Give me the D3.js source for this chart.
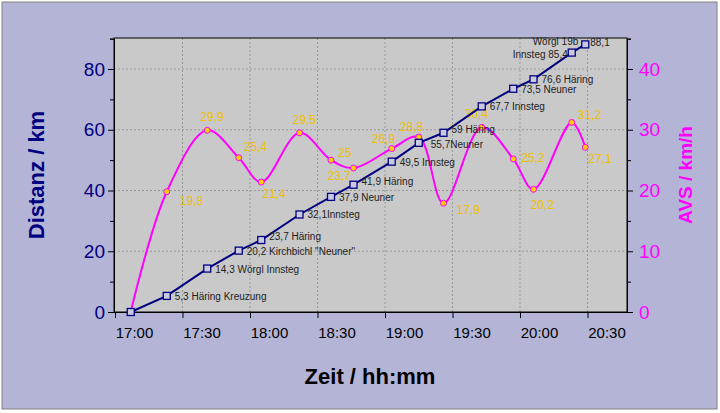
<!DOCTYPE html><html><head><meta charset="utf-8">
<script src="https://cdn.jsdelivr.net/npm/d3@7"></script>
<style>body{margin:0;background:#fff}text{font-family:"Liberation Sans",Arial,sans-serif}</style></head><body>
<svg id="c" width="720" height="413"></svg>
<script>
const times=["17:07","17:23","17:41","17:55","18:05","18:22","18:36","18:46","19:03","19:15","19:26","19:43","19:57","20:06","20:23","20:29"];
const distance=[0,5.3,14.3,20.2,23.7,32.1,37.9,41.9,49.5,55.7,59,67.7,73.5,76.6,85.4,88.1];
const distLabels=["","5,3 Häring Kreuzung","14,3 Wörgl Innsteg","20,2 Kirchbichl \"Neuner\"","23,7 Häring","32,1Innsteg","37,9 Neuner","41,9 Häring","49,5 Innsteg","55,7Neuner","59 Häring","67,7 Innsteg","73,5 Neuner","76,6 Häring","Innsteg 85,4","88,1"];
const speed=[0,19.8,29.9,25.4,21.4,29.5,25,23.7,26.9,28.8,17.9,30.4,25.2,20.2,31.2,27.1];
const speedLabels=["","19,8","29,9","25,4","21,4","29,5","25","23,7","26,9","28,8","17,9","30,4","25,2","20,2","31,2","27,1"];
const timeTicks=["17:00","17:30","18:00","18:30","19:00","19:30","20:00","20:30"];
// label placement (dx,dy,anchor)
const distPos=[null,[8,4,"start"],[8,4,"start"],[8,4,"start"],[8,0,"start"],[8,4,"start"],[8,4,"start"],[8,0,"start"],[8,4,"start"],[12,5,"start"],[8,0,"start"],[8,4,"start"],[8,4,"start"],[8,4,"start"],[-4,5,"end"],[5,2,"start"]];
const spdPos=[null,[13,13,"start"],[-7,-9,"start"],[5,-7,"start"],[1,16,"start"],[-7,-9,"start"],[7,-3,"start"],[-26,12,"start"],[-20,-6,"start"],[-19,-6,"start"],[13,11,"start"],[-17,-9,"start"],[8,3,"start"],[-3,20,"start"],[6,-3,"start"],[3,16,"start"]];

const svg=d3.select("#c");
svg.append("rect").attr("x",0).attr("y",0).attr("width",720).attr("height",413).attr("fill","#fff");
svg.append("rect").attr("x",2).attr("y",2).attr("width",715).attr("height",407).attr("fill","#B4B4D6").attr("stroke","#808080");
const L=114,R=627,T=38,B=312;
const pt=d3.timeParse("%H:%M");
const x=d3.scaleTime().domain([pt("17:00"),pt("20:48")]).range([L+1,R+1]);
const y=d3.scaleLinear().domain([0,90]).range([B,B-90*(243/80)]);
const y2=d3.scaleLinear().domain([0,45]).range([B,B-45*(243/40)]);
svg.append("rect").attr("x",L).attr("y",T).attr("width",R-L).attr("height",B-T).attr("fill","#C9C9C9");
const g=svg.append("g");
[20,40,60,80].forEach(v=>g.append("line").attr("x1",L).attr("x2",R).attr("y1",y(v)).attr("y2",y(v)).attr("stroke","#999").attr("stroke-dasharray","2,2"));
timeTicks.slice(1).forEach(t=>g.append("line").attr("x1",x(pt(t))).attr("x2",x(pt(t))).attr("y1",T).attr("y2",B).attr("stroke","#999").attr("stroke-dasharray","2,2"));
// axes
const ax=svg.append("g").attr("transform",`translate(0,${B})`).call(d3.axisBottom(x).tickValues(timeTicks.map(pt)).tickFormat(d3.timeFormat("%H:%M")).tickSize(6).tickSizeOuter(0));
ax.selectAll("text").attr("font-size",15).attr("fill","#000").attr("dy","1.1em").attr("dx",19);
const ay=svg.append("g").attr("transform",`translate(${L},0)`).call(d3.axisLeft(y).tickValues([0,20,40,60,80]).tickSize(6).tickSizeOuter(0));
ay.selectAll("text").attr("font-size",19).attr("fill","#000080");
svg.append("g").attr("transform",`translate(${L},0)`).call(d3.axisLeft(y).tickValues([10,30,50,70,90]).tickSize(4).tickFormat(""));
const ay2=svg.append("g").attr("transform",`translate(${R},0)`).call(d3.axisRight(y2).tickValues([0,10,20,30,40]).tickSize(6).tickSizeOuter(0));
ay2.selectAll("text").attr("font-size",19).attr("fill","#FF00FF").attr("x",12);
svg.append("g").attr("transform",`translate(${R},0)`).call(d3.axisRight(y2).tickValues([5,15,25,35,45]).tickSize(4).tickFormat(""));
svg.selectAll(".domain").attr("stroke","#000");
svg.append("rect").attr("x",L).attr("y",T).attr("width",R-L).attr("height",B-T).attr("fill","none").attr("stroke","#000");
// titles
svg.append("text").attr("transform","translate(44,175) rotate(-90)").attr("text-anchor","middle").attr("font-size",22).attr("font-weight","bold").attr("fill","#000080").text("Distanz / km");
svg.append("text").attr("transform","translate(692,175) rotate(-90)").attr("text-anchor","middle").attr("font-size",19).attr("font-weight","bold").attr("fill","#FF00FF").text("AVS / km/h");
svg.append("text").attr("x",370).attr("y",384).attr("text-anchor","middle").attr("font-size",22).attr("font-weight","bold").attr("fill","#000").text("Zeit / hh:mm");
// speed line
const X=times.map(t=>x(pt(t)));
svg.append("path").attr("d",d3.line().x((d,i)=>X[i]).y(d=>y2(d)).curve(d3.curveCatmullRom.alpha(0.5))(speed)).attr("fill","none").attr("stroke","#FF00FF").attr("stroke-width",2);
speed.forEach((d,i)=>{svg.append("circle").attr("cx",X[i]).attr("cy",y2(d)).attr("r",3).attr("fill","#FFD000").attr("stroke","#FF00FF").attr("stroke-width",1);});
speedLabels.forEach((s,i)=>{if(!s)return;const p=spdPos[i];svg.append("text").attr("x",X[i]+p[0]).attr("y",y2(speed[i])+p[1]).attr("text-anchor",p[2]).attr("font-size",12).attr("fill","#F0C000").text(s);});
// distance line
svg.append("path").attr("d",d3.line().x((d,i)=>X[i]).y(d=>y(d))(distance)).attr("fill","none").attr("stroke","#000080").attr("stroke-width",2);
distance.forEach((d,i)=>svg.append("rect").attr("x",X[i]-3.5).attr("y",y(d)-3.5).attr("width",7).attr("height",7).attr("fill","#C9C9E0").attr("stroke","#000080").attr("stroke-width",1.3));
distLabels.forEach((s,i)=>{if(!s)return;const p=distPos[i];svg.append("text").attr("x",X[i]+p[0]).attr("y",y(distance[i])+p[1]).attr("text-anchor",p[2]).attr("font-size",10).attr("fill","#222").text(s);});
svg.append("text").attr("x",X[15]-7).attr("y",y(88.1)+1).attr("text-anchor","end").attr("font-size",10).attr("fill","#222").text("Wörgl 19b");
</script></body></html>
